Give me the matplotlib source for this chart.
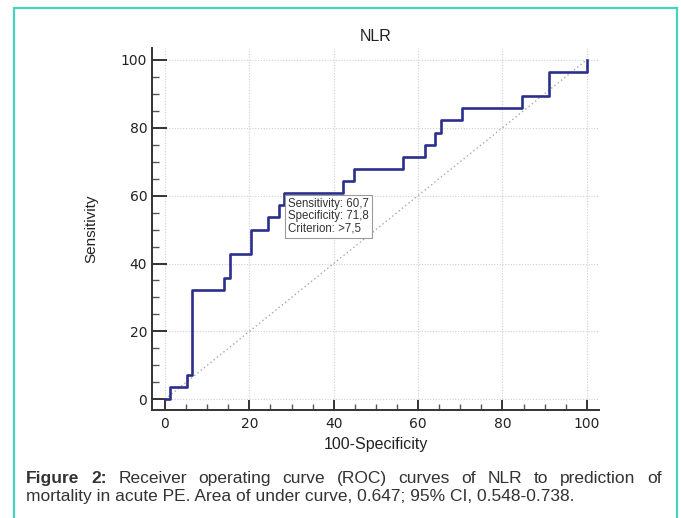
import matplotlib
matplotlib.use("Agg")
import matplotlib.pyplot as plt
from matplotlib.ticker import MultipleLocator
from matplotlib.patches import Rectangle

# ROC points (100-specificity, sensitivity)
fpr = [0, 1.28, 5.13, 6.41, 14.10, 15.38, 20.51, 24.36, 26.92, 28.21,
       42.31, 44.87, 56.41, 61.54, 64.10, 65.38, 70.51, 84.62, 91.03, 100]
sens = [0, 3.57, 7.14, 32.14, 35.71, 42.86, 50.00, 53.57, 57.14, 60.71,
        64.29, 67.86, 71.43, 75.00, 78.57, 82.14, 85.71, 89.29, 96.43, 100]
ticks = [0, 20, 40, 60, 80, 100]
crit_fpr, crit_sens = 28.21, 60.71
crit_lines = ["Sensitivity: 60,7", "Specificity: 71,8", "Criterion: >7,5"]
title = "NLR"
caption1 = "Figure 2: Receiver operating curve (ROC) curves of NLR to prediction of"
caption2 = "mortality in acute PE. Area of under curve, 0.647; 95% CI, 0.548-0.738."

W, H = 681, 518
fig = plt.figure(figsize=(W / 100, H / 100), dpi=100)
fig.patch.set_facecolor("white")

# teal frame round the figure, open at the bottom edge
fig.patches.append(Rectangle((14 / W, -0.05), (677 - 14) / W, 1.05 - 8 / H,
                             transform=fig.transFigure, fill=False,
                             ec="#45d3bf", lw=1.6))

ax = fig.add_axes([152 / W, 1 - 410 / H, (599 - 152) / W, (410 - 48.3) / H])
ax.set_xlim(-3.08, 102.9)
ax.set_ylim(-3.15, 103.4)

ax.plot([0, 100], [0, 100], ls=(0, (1, 2)), color="#a8a8a8", lw=1.0, zorder=2)
ax.plot(fpr, sens, drawstyle="steps-post", color="#2b2f8c", lw=1.9, zorder=3)

ax.set_xticks(ticks)
ax.set_yticks(ticks)
ax.xaxis.set_minor_locator(MultipleLocator(5))
ax.yaxis.set_minor_locator(MultipleLocator(5))
ax.grid(True, which="major", ls=(0, (1, 1.5)), color="#cfcfcf", lw=0.8, zorder=1)

for s in ["top", "right"]:
    ax.spines[s].set_visible(False)
for s in ["left", "bottom"]:
    ax.spines[s].set_color("#333333")
    ax.spines[s].set_linewidth(1.4)

ax.tick_params(axis="y", which="major", direction="in", length=10.5, width=1.4,
               color="#333333", pad=3.5, labelsize=10)
ax.tick_params(axis="y", which="minor", direction="in", length=5, width=1.0,
               color="#555555")
ax.tick_params(axis="x", which="major", direction="in", length=7, width=1.4,
               color="#333333", pad=5, labelsize=10)
ax.tick_params(axis="x", which="minor", direction="in", length=4, width=1.0,
               color="#555555")
for lab in ax.get_xticklabels() + ax.get_yticklabels():
    lab.set_color("#222222")

ax.set_xlabel("100-Specificity", fontsize=11.5, family="Liberation Sans", color="#222222")
ax.set_ylabel("Sensitivity", fontsize=11, family="Liberation Sans", color="#222222")
ax.xaxis.set_label_coords(0.5, -0.074)
ax.yaxis.set_label_coords(-0.12, 0.5)
ax.set_title(title, fontsize=11.5, family="Liberation Sans", color="#222222", pad=5)

ax.annotate("\n".join(crit_lines), xy=(crit_fpr, crit_sens), xytext=(3, -3.5),
            textcoords="offset points", ha="left", va="top", fontsize=8.3,
            family="Liberation Sans", color="#333333", linespacing=1.0,
            bbox=dict(boxstyle="square,pad=0.3", fc="white", ec="#9a9a9a", lw=0.8),
            zorder=4)

# caption, first line justified word by word
renderer = fig.canvas.get_renderer()
cap_size = 12.5
left_px, right_px = 26, 662
fig.text(left_px / W, 1 - 501.5 / H, caption2, fontsize=cap_size,
         family="Liberation Sans", color="#333333", ha="left", va="baseline")

words = caption1.split(" ")
texts = []
for i, w in enumerate(words):
    t = fig.text(0, 1 - 483 / H, w, fontsize=cap_size, family="Liberation Sans",
                 weight="bold" if i < 2 else "normal", color="#333333",
                 ha="left", va="baseline")
    texts.append(t)
widths = [t.get_window_extent(renderer).width for t in texts]
gap = (right_px - left_px - sum(widths)) / (len(words) - 1)
x = left_px
for t, wdt in zip(texts, widths):
    t.set_x(x / W)
    x += wdt + gap

fig.savefig("out.png", dpi=100)
